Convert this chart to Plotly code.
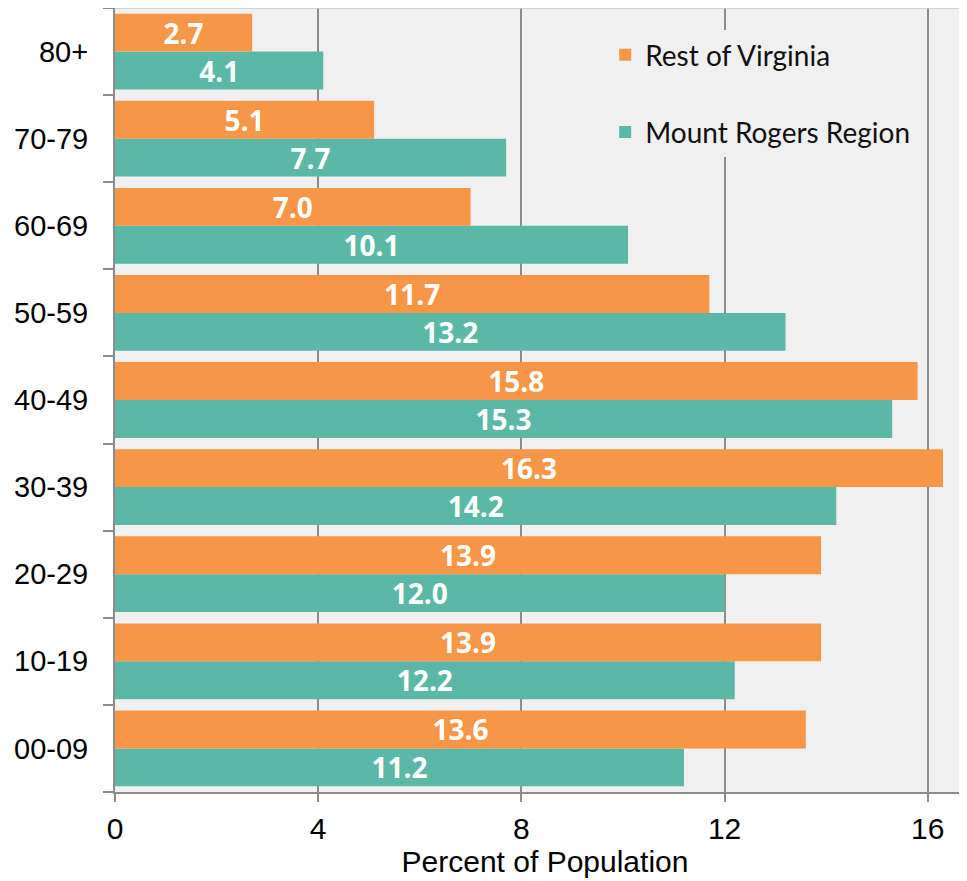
import plotly.graph_objects as go

age_groups = ["00-09", "10-19", "20-29", "30-39", "40-49", "50-59", "60-69", "70-79", "80+"]
rest_of_virginia = [13.6, 13.9, 13.9, 16.3, 15.8, 11.7, 7.0, 5.1, 2.7]
mount_rogers = [11.2, 12.2, 12.0, 14.2, 15.3, 13.2, 10.1, 7.7, 4.1]
x_ticks = [0, 4, 8, 12, 16]

ORANGE = "#F79646"
TEAL = "#5BB8A6"
GRID = "#8c8c8c"
LABEL_FONT = dict(family="Open Sans", size=28, color="white", weight="bold")

fig = go.Figure()
fig.add_trace(go.Bar(
    y=age_groups, x=mount_rogers, orientation="h", name="Mount Rogers Region",
    marker=dict(color=TEAL, line=dict(width=0)), legendgroup="b", legendrank=2,
    texttemplate="%{x:.1f}", textposition="inside", insidetextanchor="middle",
    textfont=LABEL_FONT, hoverinfo="skip",
))
fig.add_trace(go.Bar(
    y=age_groups, x=rest_of_virginia, orientation="h", name="Rest of Virginia",
    marker=dict(color=ORANGE, line=dict(width=0)), legendgroup="a", legendrank=1,
    texttemplate="%{x:.1f}", textposition="inside", insidetextanchor="middle",
    textfont=LABEL_FONT, hoverinfo="skip",
))

fig.update_layout(
    width=967, height=881,
    margin=dict(l=107, r=0, t=0, b=97),
    paper_bgcolor="white", plot_bgcolor="#f0f0f0",
    barmode="group", bargap=0.13, bargroupgap=0,
    showlegend=True,
    legend=dict(
        x=0.57, xanchor="left", y=0.972, yanchor="top",
        bgcolor="#f0f0f0", borderwidth=0,
        font=dict(family="Lato", size=28, color="#111111"),
        traceorder="grouped", tracegroupgap=38,
    ),
    uniformtext=dict(minsize=28, mode="show"),
)
fig.update_xaxes(
    range=[0, 16.93], tickvals=x_ticks, ticktext=[str(v) for v in x_ticks],
    showgrid=True, gridcolor=GRID, gridwidth=1.5, zeroline=False,
    showline=True, linecolor=GRID, linewidth=2,
    ticks="outside", ticklen=8, tickcolor=GRID, tickwidth=2,
    tickfont=dict(family="Liberation Sans", size=30, color="black"),
    ticklabelstandoff=1, automargin=False,
    title=dict(text="Percent of Population", standoff=6,
               font=dict(family="Liberation Sans Narrow, Arial Narrow, Liberation Sans", size=30, color="black")),
)
fig.update_yaxes(
    type="category", categoryorder="array", categoryarray=age_groups,
    showgrid=False, zeroline=False,
    showline=True, linecolor=GRID, linewidth=2,
    ticks="outside", tickson="boundaries", ticklen=10, tickcolor=GRID, tickwidth=2,
    tickfont=dict(family="Liberation Sans", size=29, color="black"),
    ticklabelstandoff=19, automargin=False,
)
fig.add_shape(type="line", xref="paper", yref="paper", x0=0, x1=1, y0=1, y1=1,
              line=dict(color="#c8c8c8", width=1.5))

fig.write_html("out.html")
